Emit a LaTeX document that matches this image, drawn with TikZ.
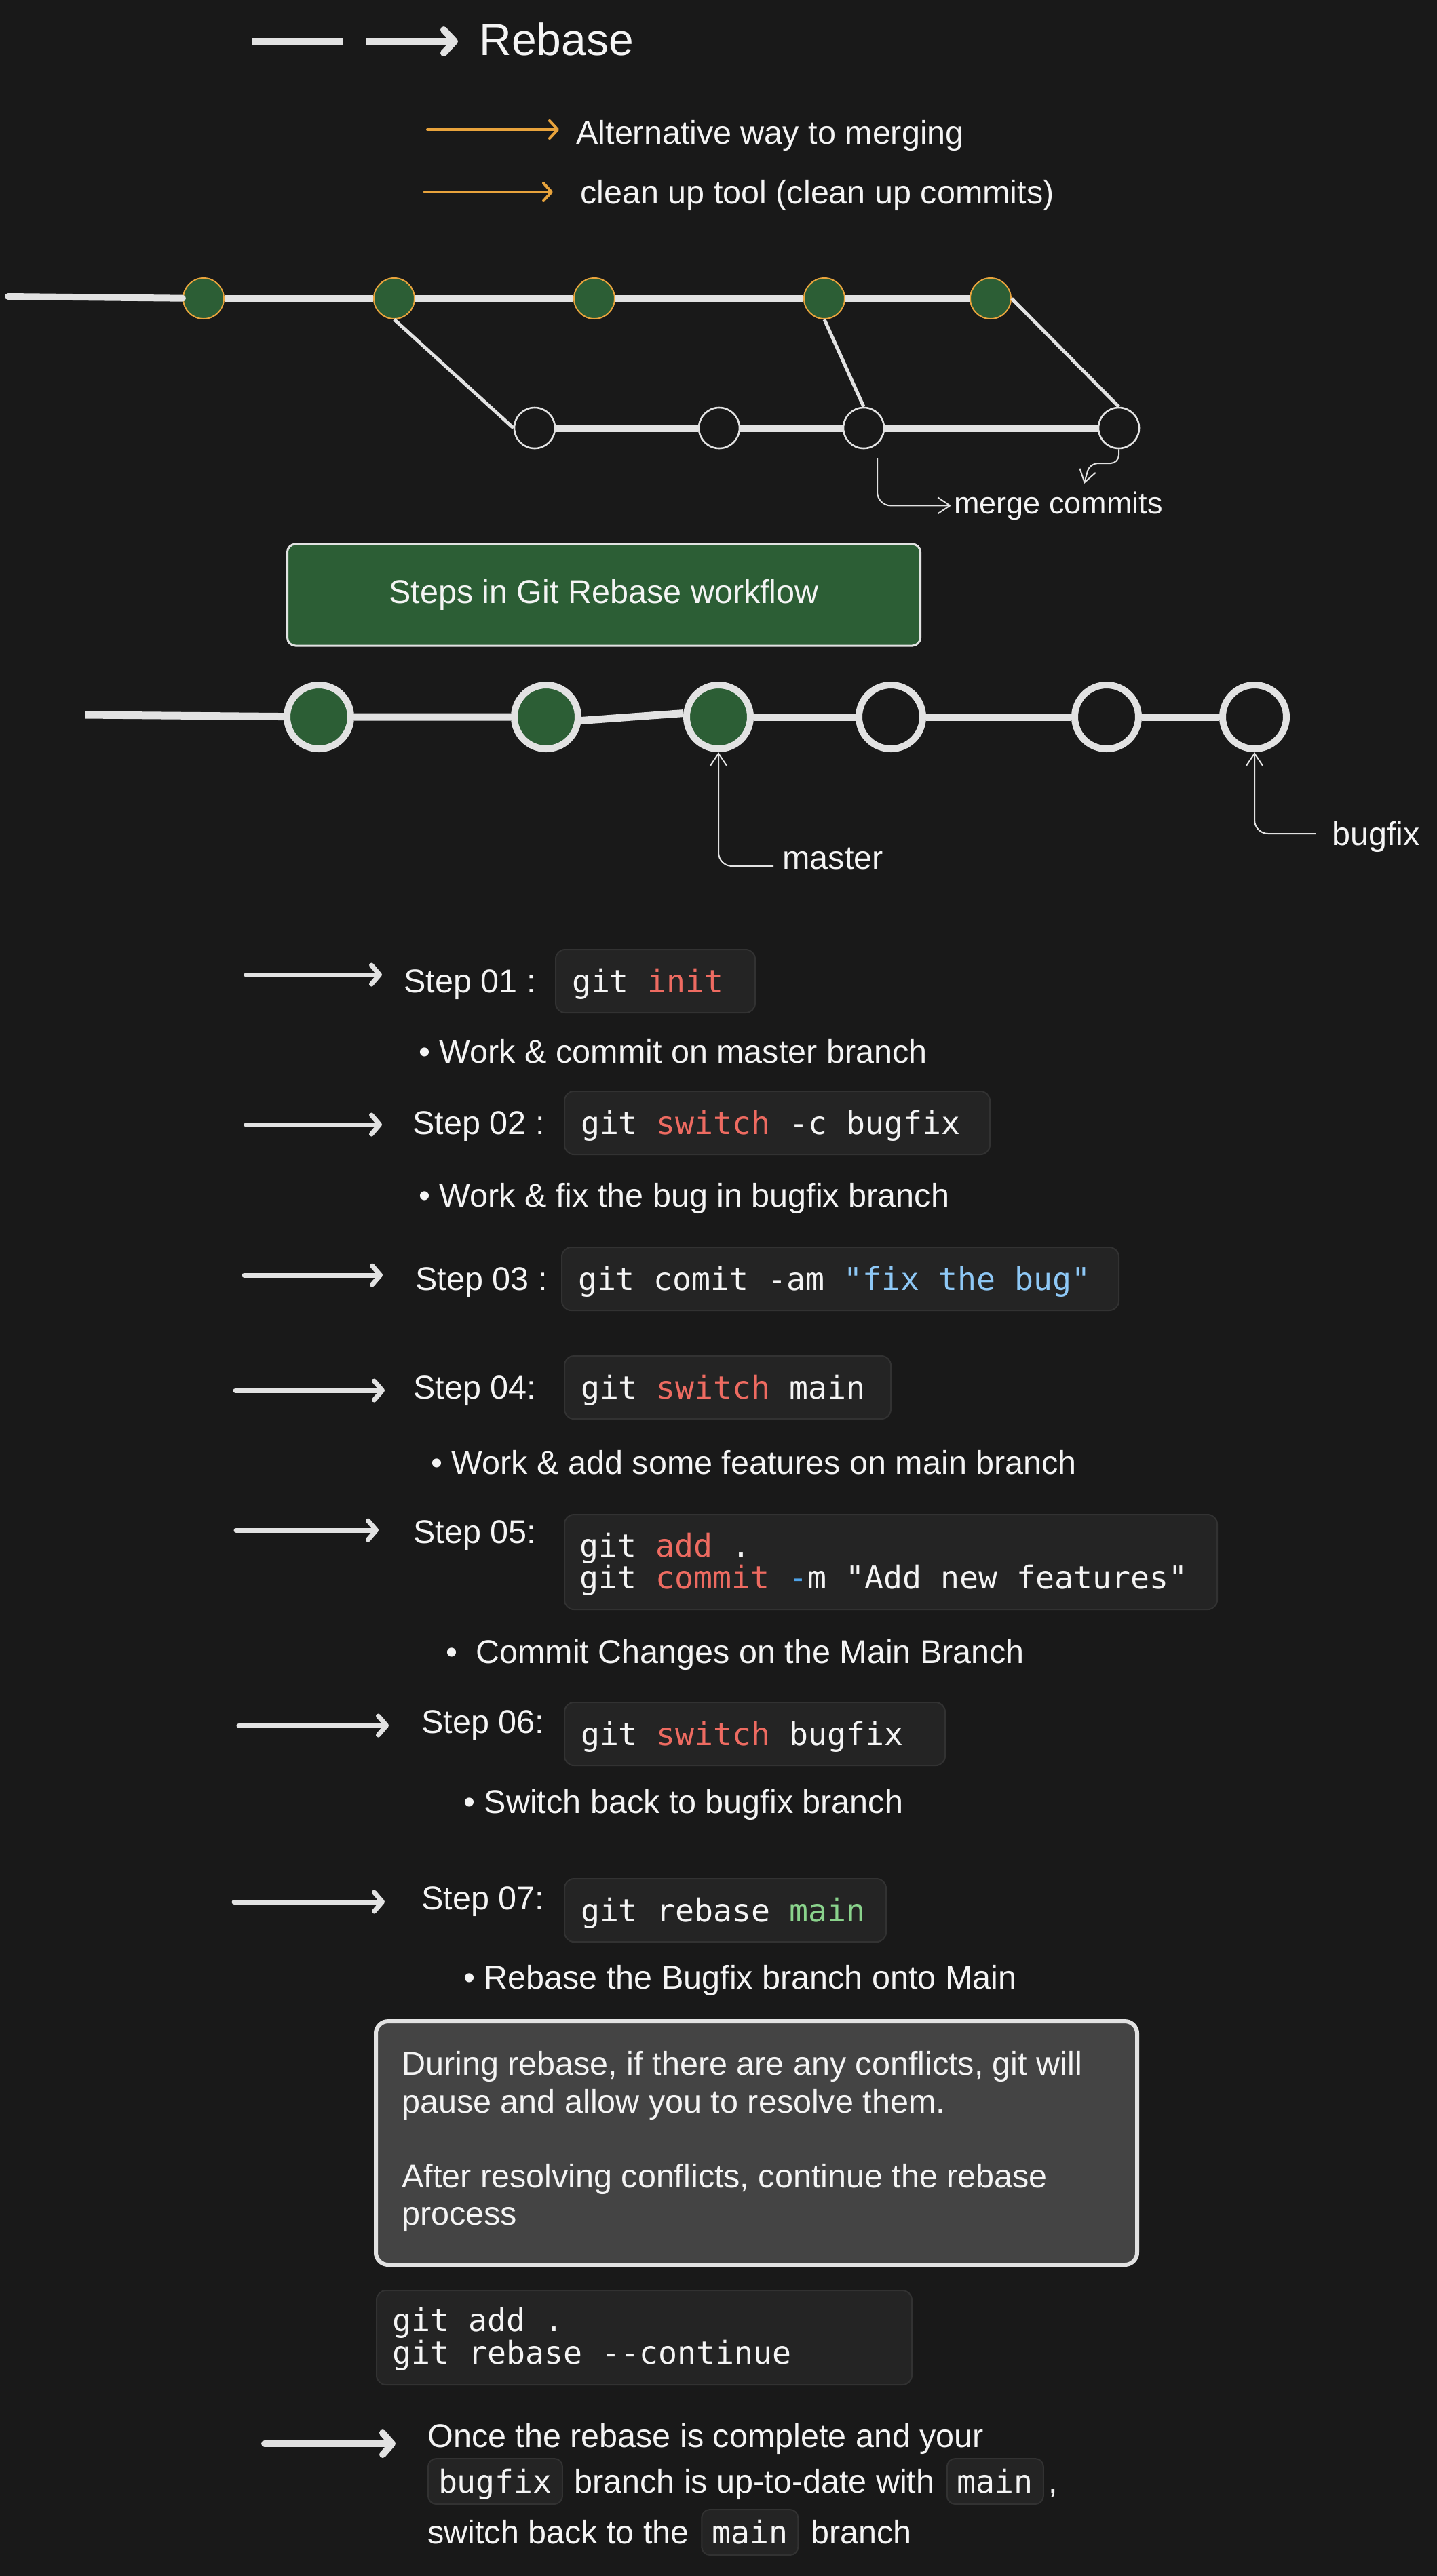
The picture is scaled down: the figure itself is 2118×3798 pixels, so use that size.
\documentclass[tikz,border=0pt]{standalone}
\usepackage{fontspec}
\setmainfont{Liberation Sans}
\newfontfamily\monofam{DejaVu Sans Mono}
\usetikzlibrary{arrows.meta}

\definecolor{bg}{HTML}{191919}
\definecolor{ink}{HTML}{F4F4F4}
\definecolor{stroke}{HTML}{E2E2E2}
\definecolor{leaf}{HTML}{2C5E35}
\definecolor{amber}{HTML}{E8A33C}
\definecolor{codebg}{HTML}{242424}
\definecolor{codeline}{HTML}{323232}
\definecolor{panel}{HTML}{444444}
\definecolor{kwred}{HTML}{EE6B61}
\definecolor{strblue}{HTML}{8EC8F6}
\definecolor{refgreen}{HTML}{8AD38C}
\definecolor{optblue}{HTML}{4FA3E8}

\newcommand{\mybody}{\fontsize{24.25}{27.5}\selectfont}
\newcommand{\mysmall}{\fontsize{22.5}{26}\selectfont}
\newcommand{\mytitle}{\fontsize{33}{38}\selectfont}
\newcommand{\mycode}{\monofam\fontsize{23.25}{23.5}\selectfont}
\newcommand{\kw}[1]{\textcolor{kwred}{#1}}
% code line padded to a fixed width, left aligned
\newcommand{\padcode}[2]{\makebox[#1][l]{#2}}

\begin{document}
\begin{tikzpicture}[x=0.5pt, y=-0.5pt,
  txt/.style={font=\mybody, text=ink, inner sep=0pt, anchor=base west},
  code/.style={font=\mycode, text=ink, inner sep=0pt, anchor=base west},
  codebox/.style={font=\mycode, text=ink, fill=codebg, draw=codeline, line width=1pt,
    rounded corners=7pt, inner xsep=12pt, inner ysep=0pt, text height=31.5pt,
    text depth=15pt, anchor=base west},
  blockbox/.style={fill=codebg, draw=codeline, line width=1pt, rounded corners=7pt,
    inner sep=0pt, anchor=north west},
  inlinecode/.style={font=\mycode, text=ink, fill=codebg, draw=codeline, line width=1pt,
    rounded corners=6pt, inner xsep=7.5pt, inner ysep=0pt, text height=25pt,
    text depth=8.5pt, anchor=base west},
  commit/.style={circle, fill=leaf, draw=amber, line width=1pt, minimum size=30pt, inner sep=0pt},
  side/.style={circle, fill=bg, draw=stroke, line width=1.3pt, minimum size=30pt, inner sep=0pt},
  bigc/.style={circle, draw=stroke, line width=5pt, minimum size=47pt, inner sep=0pt},
  trunk/.style={draw=stroke, line width=5pt},
  branchline/.style={draw=stroke, line width=2.5pt},
  thinar/.style={draw=stroke, line width=1pt, -{Straight Barb[length=9pt,width=12pt]}},
  amberar/.style={draw=amber, line width=2pt, line cap=round,
    -{Straight Barb[length=6pt,width=13pt,line cap=round,line join=round]}},
  stepar/.style={draw=stroke, line width=3.5pt, line cap=round,
    -{Straight Barb[length=6pt,width=14pt,line cap=round,line join=round]}},
  bigar/.style={draw=stroke, line width=5pt, line cap=round,
    -{Straight Barb[length=7pt,width=16pt,line cap=round,line join=round]}},
  titlear/.style={draw=stroke, line width=5pt, dash pattern=on 67pt off 17pt,
    -{Straight Barb[length=8pt,width=17pt,line cap=round,line join=round]}}
]
% page and background
\fill[bg] (0,0) rectangle (2118,3798);
\useasboundingbox (0,0) rectangle (2118,3798);

% ---------- heading ----------
\coordinate (ta) at (371,61);
\coordinate (tb) at (675,61);
\draw[titlear] (ta) -- (tb);
\node[txt, font=\mytitle] (title) at (706,81) {Rebase};

\coordinate (o1a) at (630,191);
\coordinate (o1b) at (824,191);
\draw[amberar] (o1a) -- (o1b);
\node[txt] (alt) at (849,212) {Alternative way to merging};
\coordinate (o2a) at (626,283);
\coordinate (o2b) at (815,283);
\draw[amberar] (o2a) -- (o2b);
\node[txt] (clean) at (855,300) {clean up tool (clean up commits)};

% ---------- merge history ----------
\coordinate (t0) at (12,437);
\node[commit] (t1) at (300,440) {};
\node[commit] (t2) at (581,440) {};
\node[commit] (t3) at (876,440) {};
\node[commit] (t4) at (1215,440) {};
\node[commit] (t5) at (1460,440) {};
\node[side] (l1) at (788,631) {};
\node[side] (l2) at (1060,631) {};
\node[side] (l3) at (1273,631) {};
\node[side] (l4) at (1649,631) {};
\draw[trunk, line cap=round] (t0) -- (t1);
\draw[trunk] (t1) -- (t2) -- (t3) -- (t4) -- (t5);
\draw[trunk, line width=5.5pt] (l1) -- (l2) -- (l3) -- (l4);
\draw[branchline] (t2.south) -- (l1.west);
\draw[branchline] (t4.south) -- (l3.north);
\draw[branchline] (t5.east) -- (l4.north);

\node[txt, font=\mysmall] (mc) at (1406,757) {merge commits};
\coordinate (mcA) at (1293,675);
\draw[thinar, rounded corners=10pt] (mcA) |- ([xshift=-2pt]mc.west);
\coordinate (sk1) at (1606,683);
\coordinate (sk2) at (1598,713);
\draw[thinar, rounded corners=6pt] (l4.south) |- (sk1) -- (sk2);

% ---------- workflow ----------
\node[rectangle, rounded corners=6pt, fill=leaf, draw=stroke, line width=1.5pt,
  minimum width=466.5pt, minimum height=75pt, font=\mybody, text=ink] (wf)
  at (890,877) {Steps in Git Rebase workflow};

\coordinate (g0) at (126,1054);
\node[bigc, fill=leaf] (g1) at (470,1057) {};
\node[bigc, fill=leaf] (g2) at (805,1057) {};
\node[bigc, fill=leaf] (g3) at (1059,1057) {};
\node[bigc, fill=bg] (g4) at (1313,1057) {};
\node[bigc, fill=bg] (g5) at (1631,1057) {};
\node[bigc, fill=bg] (g6) at (1849,1057) {};
\draw[trunk, line width=5.5pt] (g0) -- (g1) -- (g2);
\draw[trunk, line width=5.5pt] (g2.-6) -- (g3.174);
\draw[trunk, line width=5.5pt] (g3) -- (g4) -- (g5) -- (g6);

\node[txt] (ms) at (1153,1281) {master};
\coordinate (msA) at (1140,1277);
\draw[thinar, rounded corners=10pt] (msA) -| (g3.south);
\node[txt] (bf) at (1963,1246) {bugfix};
\coordinate (bfA) at (1939,1229);
\draw[thinar, rounded corners=10pt] (bfA) -| (g6.south);

% ---------- steps ----------
\coordinate (a1s) at (363,1437); \coordinate (a1e) at (563,1437);
\draw[stepar] (a1s) -- (a1e);
\node[txt] (s1) at (595,1463) {Step 01 :};
\node[codebox] (b1) at (818,1463) {\padcode{123pt}{git \kw{init}}};
\node[txt] (n1) at (617,1567) {• Work \& commit on master branch};

\coordinate (a2s) at (363,1658); \coordinate (a2e) at (563,1658);
\draw[stepar] (a2s) -- (a2e);
\node[txt] (s2) at (608,1672) {Step 02 :};
\node[codebox] (b2) at (831,1672) {\padcode{289.5pt}{git \kw{switch} -c bugfix}};
\node[txt] (n2) at (617,1779) {• Work \& fix the bug in bugfix branch};

\coordinate (a3s) at (360,1880); \coordinate (a3e) at (564,1880);
\draw[stepar] (a3s) -- (a3e);
\node[txt] (s3) at (612,1902) {Step 03 :};
\node[codebox] (b3) at (827,1902) {\padcode{386.5pt}{git comit -am \textcolor{strblue}{"fix the bug"}}};

\coordinate (a4s) at (347,2050); \coordinate (a4e) at (567,2050);
\draw[stepar] (a4s) -- (a4e);
\node[txt] (s4) at (609,2062) {Step 04:};
\node[codebox] (b4) at (831,2062) {\padcode{216.5pt}{git \kw{switch} main}};
\node[txt] (n4) at (635,2173) {• Work \& add some features on main branch};

\coordinate (a5s) at (348,2256); \coordinate (a5e) at (558,2256);
\draw[stepar] (a5s) -- (a5e);
\node[txt] (s5) at (609,2275) {Step 05:};
\node[blockbox, minimum width=481pt, minimum height=70pt] (b5) at (831,2232) {};
\node[code] (c5a) at (854,2295) {git \kw{add} .};
\node[code] (c5b) at (854,2342) {git \kw{commit} \textcolor{optblue}{-}m "Add new features"};
\node[txt] (n5) at (657,2452) {•\ \ Commit Changes on the Main Branch};

\coordinate (a6s) at (352,2544); \coordinate (a6e) at (573,2544);
\draw[stepar] (a6s) -- (a6e);
\node[txt] (s6) at (621,2555) {Step 06:};
\node[codebox] (b6) at (831,2573) {\padcode{256.5pt}{git \kw{switch} bugfix}};
\node[txt] (n6) at (683,2673) {• Switch back to bugfix branch};

\coordinate (a7s) at (345,2804); \coordinate (a7e) at (567,2804);
\draw[stepar] (a7s) -- (a7e);
\node[txt] (s7) at (621,2815) {Step 07:};
\node[codebox] (b7) at (831,2833) {\padcode{213pt}{git rebase \textcolor{refgreen}{main}}};
\node[txt] (n7) at (683,2932) {• Rebase the Bugfix branch onto Main};

% ---------- conflicts note ----------
\node[rectangle, rounded corners=9pt, fill=panel, draw=stroke, line width=3pt,
  inner sep=0pt, anchor=north west, minimum width=561pt, minimum height=179.5pt] (note)
  at (551,2977) {};
\node[txt] (p1) at (592,3059) {During rebase, if there are any conflicts, git will};
\node[txt] (p2) at (592,3115) {pause and allow you to resolve them.};
\node[txt] (p3) at (592,3225) {After resolving conflicts, continue the rebase};
\node[txt] (p4) at (592,3280) {process};

\node[blockbox, minimum width=394.5pt, minimum height=69.5pt] (b8) at (554,3376) {};
\node[code] (c8a) at (578,3437) {git add .};
\node[code] (c8b) at (578,3485) {git rebase -{}-continue};

% ---------- closing ----------
\coordinate (fas) at (390,3603); \coordinate (fae) at (583,3603);
\draw[bigar] (fas) -- (fae);
\node[txt] (f1) at (630,3608) {Once the rebase is complete and your};
\node[inlinecode] (ic1) at (630,3675) {bugfix};
\node[txt] (f2) at ([xshift=8pt]ic1.base east) {branch is up-to-date with};
\node[inlinecode] (ic2) at ([xshift=8.5pt]f2.base east) {main};
\node[txt] (f3) at ([xshift=3pt]ic2.base east) {,};
\node[txt] (f4) at (630,3750) {switch back to the};
\node[inlinecode] (ic3) at ([xshift=8.5pt]f4.base east) {main};
\node[txt] (f5) at ([xshift=9pt]ic3.base east) {branch};
\end{tikzpicture}
\end{document}
